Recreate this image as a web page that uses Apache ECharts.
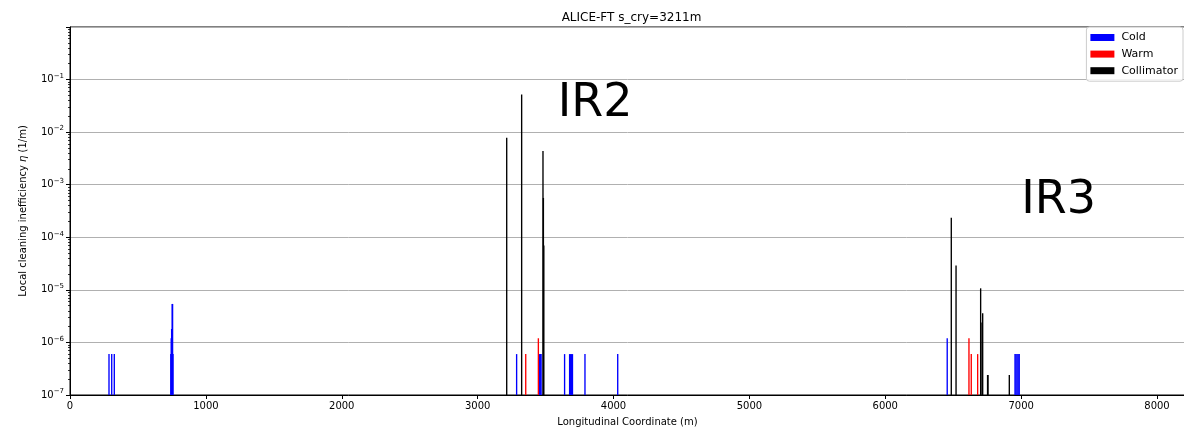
<!DOCTYPE html>
<html>
<head>
<meta charset="utf-8">
<title>ALICE-FT s_cry=3211m</title>
<script src="https://cdn.jsdelivr.net/npm/echarts@6/dist/echarts.min.js"></script>
<style>
  html, body { margin: 0; padding: 0; background: #ffffff; }
  #chart { width: 1184px; height: 433px; }
</style>
</head>
<body>
<div id="chart"></div>
<script>
// Loss positions (m) and local cleaning inefficiency (1/m), per element type
const coldPos = [287, 307, 326, 742, 745, 748, 752, 755, 758,
                 3287, 3455, 3461, 3467, 3640, 3677, 3684, 3691, 3698, 3790, 4031,
                 6456, 6955, 6962, 6970, 6978, 6986];
const coldVal = [6e-7, 6e-7, 6e-7, 6e-7, 1.2e-6, 1.8e-6, 5.4e-6, 5.4e-6, 6e-7,
                 6e-7, 6e-7, 6e-7, 6e-7, 6e-7, 6e-7, 6e-7, 6e-7, 6e-7, 6e-7, 6e-7,
                 1.2e-6, 6e-7, 6e-7, 6e-7, 6e-7, 6e-7];

const warmPos = [3354, 3447, 6616, 6633, 6680];
const warmVal = [6e-7, 1.2e-6, 1.2e-6, 6e-7, 6e-7];

const collPos = [3214, 3324, 3481, 3484, 3487, 6486, 6521, 6702, 6712, 6717, 6753, 6756, 6913];
const collVal = [7.8e-3, 5.2e-2, 4.4e-3, 5.6e-4, 7e-5, 2.35e-4, 2.9e-5, 1.07e-5, 2.4e-6, 3.6e-6, 2.4e-7, 2.4e-7, 2.4e-7];

// Interaction region labels
const irText = ['IR2', 'IR3'];
const irPos = [3590, 7000];
const irVal = [0.034, 4.9e-4];

// Axis ranges and ticks
const xTicks = [0, 1000, 2000, 3000, 4000, 5000, 6000, 7000, 8000];
const X_MAX = 8206;
const Y_MIN = 1e-7;
const Y_MAX = 1;
const yMinor = [];
for (let e = -7; e < 0; e++) {
  for (let k = 2; k <= 9; k++) yMinor.push(k * Math.pow(10, e));
}

const FONT = 'DejaVu Sans';
const BAR_W = 10; // bar width in metres

function pairs(xs, ys) { return xs.map((x, i) => [x, ys[i]]); }

function barRenderer(color) {
  return function (params, api) {
    const x = api.value(0);
    const v = api.value(1);
    const top = api.coord([x, v]);
    const base = api.coord([x, Y_MIN]);
    const w = Math.max(api.size([BAR_W, 0])[0], 1);
    return {
      type: 'rect',
      shape: { x: top[0] - w / 2, y: top[1], width: w, height: base[1] - top[1] },
      style: { fill: color }
    };
  };
}

function barSeries(name, color, xs, ys) {
  return {
    name: name,
    type: 'custom',
    renderItem: barRenderer(color),
    itemStyle: { color: color },
    data: pairs(xs, ys),
    encode: { x: 0, y: 1 },
    clip: true,
    silent: true
  };
}

const chart = echarts.init(document.getElementById('chart'), null, { renderer: 'canvas' });

const supDigits = { '-': '\u2212' };

chart.setOption({
  animation: false,
  backgroundColor: '#ffffff',
  title: {
    text: 'ALICE-FT s_cry=3211m',
    left: 626.5,
    textAlign: 'center',
    top: 7,
    textStyle: { fontFamily: FONT, fontSize: 12, fontWeight: 'normal', color: '#000000' }
  },
  legend: {
    right: 1,
    top: 27,
    orient: 'vertical',
    itemWidth: 24,
    itemHeight: 7,
    itemGap: 5.6,
    padding: [5, 5, 5, 4],
    borderColor: '#cccccc',
    borderWidth: 1,
    borderRadius: 3,
    backgroundColor: 'rgba(255,255,255,0.85)',
    textStyle: { fontFamily: FONT, fontSize: 11, color: '#000000', padding: [0, 0, 0, 2] },
    data: [
      { name: 'Cold', icon: 'rect' },
      { name: 'Warm', icon: 'rect' },
      { name: 'Collimator', icon: 'rect' }
    ]
  },
  grid: {
    left: 70, right: -1, top: 27, bottom: 38,
    containLabel: false,
    outerBoundsMode: 'none',
    show: true, borderColor: '#000000', borderWidth: 1
  },
  xAxis: {
    type: 'value',
    min: 0,
    max: X_MAX,
    interval: 1000,
    name: 'Longitudinal Coordinate (m)',
    nameLocation: 'middle',
    nameGap: 22,
    nameTextStyle: { fontFamily: FONT, fontSize: 10, color: '#000000' },
    axisLine: { show: true, onZero: false, lineStyle: { color: '#000000', width: 1 } },
    axisTick: { show: true, inside: false, length: 4, lineStyle: { color: '#000000' } },
    axisLabel: {
      fontFamily: FONT, fontSize: 10, color: '#000000', margin: 6,
      formatter: v => (xTicks.indexOf(v) >= 0 ? String(v) : '')
    },
    splitLine: { show: false }
  },
  yAxis: [
    {
      type: 'log',
      logBase: 10,
      min: Y_MIN,
      max: Y_MAX,
      interval: 1,
      name: 'Local cleaning inefficiency {i|\u03b7} (1/m)',
      nameLocation: 'middle',
      nameRotate: 90,
      nameGap: 42,
      nameTextStyle: {
        fontFamily: FONT, fontSize: 10, color: '#000000',
        rich: { i: { fontFamily: FONT, fontSize: 10, fontStyle: 'italic', color: '#000000' } }
      },
      axisLine: { show: true, onZero: false, lineStyle: { color: '#000000', width: 1 } },
      axisTick: { show: true, inside: false, length: 4, lineStyle: { color: '#000000' } },
      axisLabel: {
        margin: 6,
        formatter: function (v) {
          const e = Math.round(Math.log10(v));
          if (e >= 0) return '';
          const s = String(e).split('').map(c => supDigits[c] || c).join('');
          return '{b|10}{s|' + s + '}';
        },
        rich: {
          b: { fontFamily: FONT, fontSize: 10, color: '#000000', lineHeight: 14 },
          s: { fontFamily: FONT, fontSize: 7, color: '#000000', verticalAlign: 'top', lineHeight: 9 }
        }
      },
      splitLine: { show: true, lineStyle: { color: '#b0b0b0', width: 1 } }
    },
    {
      // minor ticks at 2..9 x 10^n
      type: 'log',
      logBase: 10,
      min: Y_MIN,
      max: Y_MAX,
      position: 'left',
      axisLine: { show: false },
      axisTick: { show: true, inside: false, length: 2, customValues: yMinor, lineStyle: { color: '#000000', width: 0.8 } },
      axisLabel: { show: false },
      splitLine: { show: false }
    }
  ],
  series: [
    barSeries('Cold', '#0000ff', coldPos, coldVal),
    barSeries('Warm', '#ff0000', warmPos, warmVal),
    barSeries('Collimator', '#000000', collPos, collVal),
    {
      name: 'labels',
      type: 'custom',
      silent: true,
      data: irPos.map((x, i) => [x, irVal[i], irText[i]]),
      encode: { x: 0, y: 1 },
      renderItem: function (params, api) {
        const p = api.coord([api.value(0), api.value(1)]);
        return {
          type: 'text',
          x: p[0],
          y: p[1],
          style: {
            text: irText[params.dataIndex],
            font: '46px "' + FONT + '"',
            fill: '#000000',
            textAlign: 'left',
            textVerticalAlign: 'middle'
          }
        };
      }
    }
  ]
});
</script>
</body>
</html>
